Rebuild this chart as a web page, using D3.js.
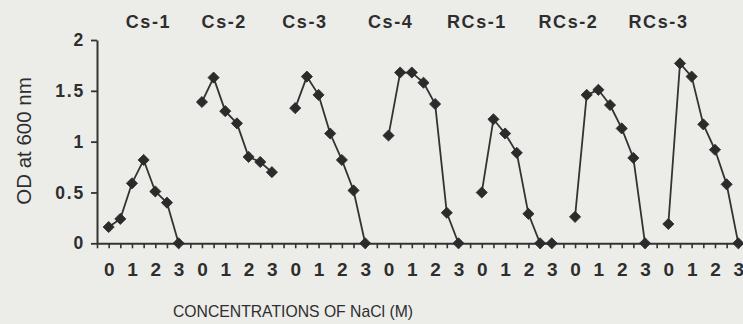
<!DOCTYPE html>
<html>
<head>
<meta charset="utf-8">
<script src="https://cdn.jsdelivr.net/npm/d3@7"></script>
<style>
  html, body { margin: 0; padding: 0; background: #ecece9; }
  svg { display: block; }
  text { fill: #2e2e2e; font-family: "Liberation Sans", Arial, sans-serif; }
</style>
</head>
<body>
<svg id="chart" width="743" height="324"></svg>
<script>
// Isolates, tested at NaCl 0–3 M in 0.5 M steps
const isolates = ["Cs-1", "Cs-2", "Cs-3", "Cs-4", "RCs-1", "RCs-2", "RCs-3"];
const concentrations = [0, 0.5, 1, 1.5, 2, 2.5, 3];

// OD at 600 nm for each isolate
const cs1  = [0.16, 0.24, 0.59, 0.82, 0.51, 0.40, 0.00];
const cs2  = [1.39, 1.63, 1.30, 1.18, 0.85, 0.80, 0.70];
const cs3  = [1.33, 1.64, 1.46, 1.08, 0.82, 0.52, 0.00];
const cs4  = [1.06, 1.68, 1.68, 1.58, 1.37, 0.30, 0.00];
const rcs1 = [0.50, 1.22, 1.08, 0.89, 0.29, 0.00, 0.00];
const rcs2 = [0.26, 1.46, 1.51, 1.36, 1.13, 0.84, 0.00];
const rcs3 = [0.19, 1.77, 1.64, 1.17, 0.92, 0.58, 0.00];
const seriesValues = [cs1, cs2, cs3, cs4, rcs1, rcs2, rcs3];

const yTickValues = [0, 0.5, 1, 1.5, 2];
const xTickLabels = ["0", "1", "2", "3"];

// ---- layout ----
const W = 743, H = 324;
const slotsPerGroup = 8;              // 7 concentrations + 1 spacer slot
const slot = (g, c) => g * slotsPerGroup + c * 2;
const titleSlots = [3.33, 9.83, 16.75, 24.1, 31.5, 39.35, 47.07];

const svg = d3.select("#chart");

const x = d3.scaleLinear().domain([-1, 55]).range([97, 97 + 56 * 11.66]);
const y = d3.scaleLinear().domain([0, 2]).range([243.3, 40]);

// y axis
const yAxis = svg.append("g")
  .attr("transform", `translate(${x(-1)},0)`)
  .call(d3.axisLeft(y).tickValues(yTickValues).tickSizeInner(6).tickSizeOuter(0)
    .tickPadding(6).tickFormat(d => String(d)));
yAxis.select(".domain").attr("stroke", "#333").attr("stroke-width", 2);
yAxis.selectAll(".tick line").attr("stroke", "#333").attr("stroke-width", 1.8);
yAxis.selectAll(".tick text")
  .attr("font-size", 17.5).attr("font-weight", "bold")
  .style("letter-spacing", "1.8px").attr("fill", "#2e2e2e");

// x axis: a tick at every 0.5 M slot, integer molarities labelled
const xLabel = s => {
  const k = s - Math.floor(s / slotsPerGroup) * slotsPerGroup;
  return (k % 2 === 0 && k <= 6) ? xTickLabels[k / 2] : "";
};
const xAxis = svg.append("g")
  .attr("transform", `translate(0,${y(0)})`)
  .call(d3.axisBottom(x).tickValues(d3.range(-1, 56)).tickSizeInner(5).tickSizeOuter(0)
    .tickPadding(14).tickFormat(xLabel));
xAxis.select(".domain").attr("stroke", "#333").attr("stroke-width", 2);
xAxis.selectAll(".tick line").attr("stroke", "#333").attr("stroke-width", 1.6);
xAxis.selectAll(".tick text")
  .attr("font-size", 19).attr("font-weight", "bold").attr("fill", "#2e2e2e");

// isolate titles
svg.append("g").selectAll("text")
  .data(isolates)
  .join("text")
  .attr("x", (d, i) => x(titleSlots[i]) + 1)
  .attr("y", 28)
  .attr("text-anchor", "middle")
  .attr("font-size", 18)
  .attr("font-weight", "bold")
  .style("letter-spacing", "1.6px")
  .text(d => d);

// lines and diamond markers
const line = d3.line()
  .x(d => x(d.s))
  .y(d => y(d.v));
const marker = d3.symbol().type(d3.symbolSquare).size(62);

const groups = svg.append("g").selectAll("g")
  .data(seriesValues.map((vals, g) =>
    vals.map((v, i) => ({ s: slot(g, concentrations[i]), v }))))
  .join("g");

groups.append("path")
  .attr("d", line)
  .attr("fill", "none")
  .attr("stroke", "#333")
  .attr("stroke-width", 1.8);

groups.selectAll(".pt")
  .data(d => d)
  .join("path")
  .attr("class", "pt")
  .attr("d", marker)
  .attr("transform", d => `translate(${x(d.s)},${y(d.v)}) rotate(45)`)
  .attr("fill", "#2b2b2b")
  .attr("stroke", "#2b2b2b")
  .attr("stroke-width", 0.8);

// axis titles
svg.append("text")
  .attr("transform", `translate(31,141) rotate(-90)`)
  .attr("text-anchor", "middle")
  .attr("font-size", 20.5)
  .text("OD at 600 nm");

svg.append("text")
  .attr("x", 293)
  .attr("y", 317)
  .attr("text-anchor", "middle")
  .attr("font-size", 17)
  .attr("textLength", 240)
  .attr("lengthAdjust", "spacingAndGlyphs")
  .text("CONCENTRATIONS OF NaCl (M)");
</script>
</body>
</html>
